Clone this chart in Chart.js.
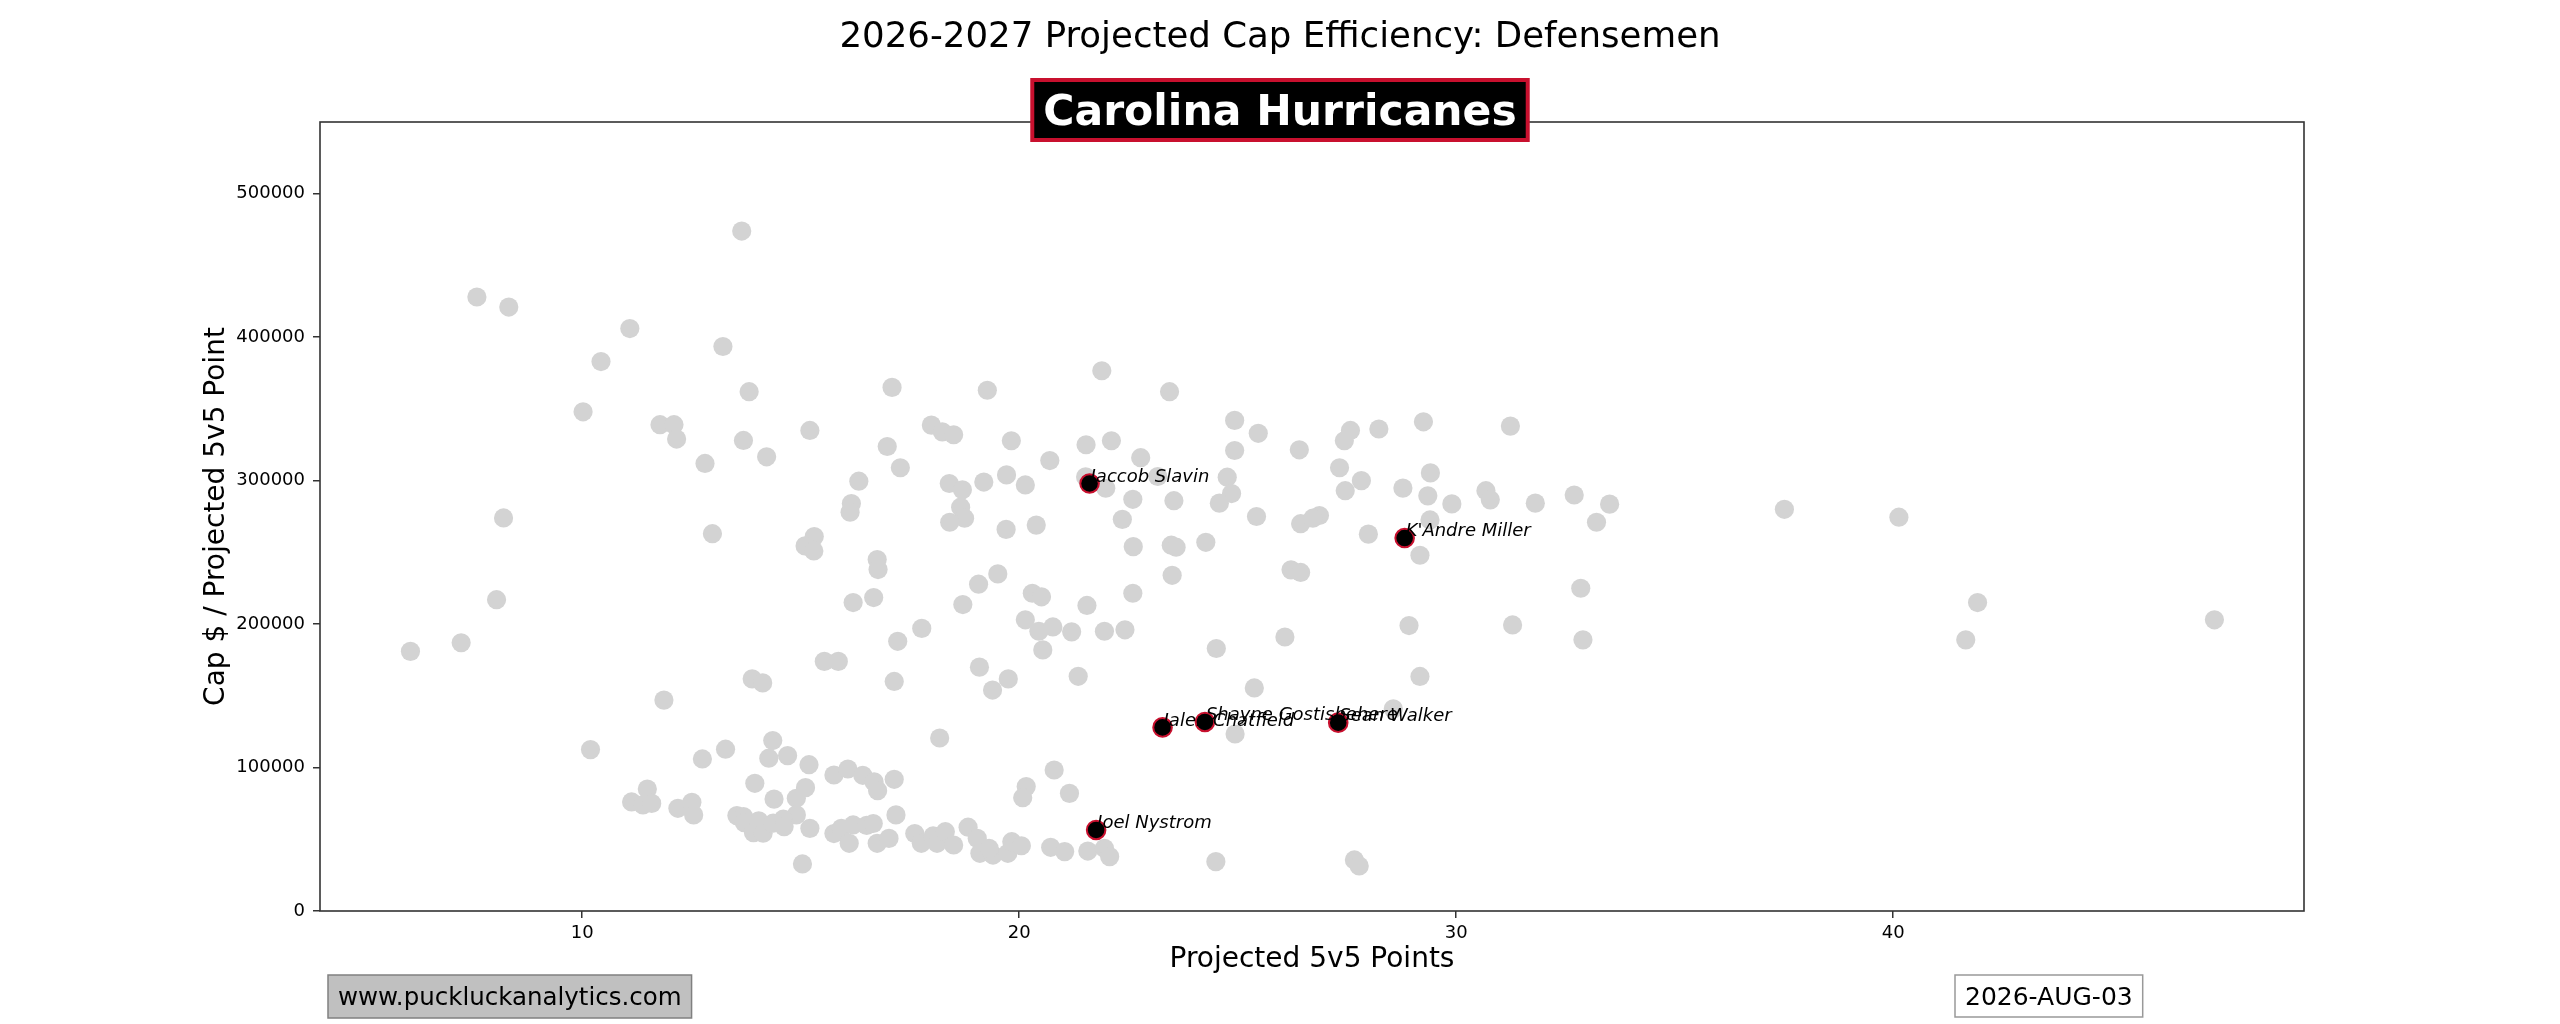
<!DOCTYPE html>
<html>
<head>
<meta charset="utf-8">
<title>2026-2027 Projected Cap Efficiency: Defensemen</title>
<script src="https://cdn.jsdelivr.net/npm/chart.js@4.4.1/dist/chart.umd.min.js"></script>
<style>
  html, body { margin: 0; padding: 0; background: #fff; }
  #wrap { position: relative; width: 2560px; height: 1024px; }
</style>
</head>
<body>
<div id="wrap"><canvas id="chart"></canvas></div>
<script>
// --- DATA ---
// every defenseman in the league (grey dots)
const leaguePoints = [
  6.07, 7.23, 7.59, 8.32, 8.04, 8.20, 10.02, 10.43, 10.19, 11.09,
  11.78, 12.10, 12.16, 12.81, 12.98, 11.87, 11.49, 11.13, 11.39, 11.59,
  12.19, 12.51, 12.55, 12.75, 13.28, 13.22, 13.65, 13.82, 13.69, 17.09,
  19.27, 21.89, 14.22, 15.21, 17.99, 18.24, 18.50, 16.98, 17.28, 19.82,
  20.70, 21.53, 22.11, 22.78, 16.33, 16.16, 16.13, 15.31, 15.10, 15.30,
  18.40, 18.70, 19.19, 19.71, 20.14, 18.66, 18.75, 18.41, 19.70, 20.39,
  21.52, 21.98, 22.60, 22.36, 22.61, 16.75, 16.77, 16.20, 16.67, 19.51,
  19.07, 18.71, 20.30, 20.51, 21.55, 22.60, 20.14, 20.45, 20.77, 21.20,
  21.95, 22.42, 20.54, 17.77, 17.22, 15.54, 15.86, 19.09, 13.89, 14.13,
  17.14, 19.39, 19.75, 21.35, 18.18, 14.36, 14.27, 14.70, 15.19, 13.95,
  14.39, 14.90, 15.11, 14.90, 15.76, 16.08, 16.42, 16.68, 16.76, 17.14,
  17.18, 20.80, 20.16, 20.08, 21.15, 13.54, 13.69, 13.71, 13.92, 14.04,
  14.14, 14.37, 14.60, 14.62, 15.04, 15.21, 15.76, 15.93, 16.20, 16.11,
  16.51, 16.66, 16.75, 17.02, 17.61, 17.76, 18.03, 18.12, 18.31, 18.50,
  18.83, 19.04, 19.10, 19.40, 19.31, 19.74, 19.83, 20.05, 20.72, 21.04,
  21.57, 21.95, 22.07, 23.44, 24.93, 25.47, 24.93, 26.41, 27.58, 27.44,
  28.23, 29.25, 31.24, 27.33, 27.83, 27.46, 28.78, 29.41, 29.35, 29.90,
  30.68, 30.78, 31.81, 32.70, 23.17, 24.76, 24.86, 24.58, 23.54, 25.43,
  26.44, 26.87, 26.72, 23.48, 23.59, 24.27, 27.99, 29.40, 29.17, 23.50,
  26.22, 26.44, 24.51, 26.08, 28.92, 31.29, 32.85, 32.90, 29.17, 25.38,
  28.56, 24.94, 24.50, 27.67, 27.78, 33.51, 33.21, 37.51, 40.13, 41.66,
  41.93, 47.35
];
const leagueCap = [
  181000, 187000, 428000, 421000, 217000, 274000, 348000, 383000, 112500, 406000,
  339000, 339000, 329000, 312000, 263000, 147000, 85000, 76000, 74000, 75000,
  71600, 75800, 67000, 106000, 112800, 393500, 474000, 362000, 328000, 365000,
  363000, 376600, 316600, 335000, 338700, 334000, 332000, 323800, 309000, 327800,
  314000, 325000, 327800, 316000, 299600, 284000, 278000, 261000, 254500, 251000,
  298000, 293600, 299000, 304000, 297000, 281500, 273800, 271000, 266000, 269000,
  302600, 294700, 287000, 273000, 254000, 245000, 238000, 215000, 218500, 235000,
  227800, 213600, 221500, 219000, 213000, 221500, 203000, 195000, 198000, 194600,
  195000, 196000, 182000, 197000, 188000, 174000, 174000, 170000, 161800, 159000,
  160000, 154000, 161800, 163600, 120600, 118800, 106500, 108300, 102000, 89000,
  78000, 78600, 86000, 67000, 94800, 99000, 94600, 90000, 83900, 91800,
  67000, 98300, 86700, 79000, 82000, 66500, 65800, 61600, 54600, 62800,
  54200, 61200, 64000, 58800, 32800, 57600, 54000, 57600, 60000, 47200,
  59700, 61000, 47200, 50600, 54000, 47200, 52300, 47200, 55300, 46000,
  58400, 50600, 40200, 39000, 43700, 40200, 48300, 45500, 44400, 41400,
  41800, 43700, 37900, 362000, 342000, 333000, 321000, 321500, 335000, 327800,
  336000, 341000, 338000, 309000, 300000, 293000, 294800, 305400, 289400, 283800,
  293000, 286600, 284300, 290000, 302900, 302400, 291000, 284300, 286000, 275000,
  270000, 275700, 273800, 255000, 253600, 257000, 262700, 272600, 248000, 234000,
  237800, 236000, 183000, 191000, 199000, 199400, 225000, 189000, 163500, 155500,
  140900, 123400, 34400, 35600, 31400, 283600, 271000, 280000, 274500, 189000,
  215000, 203000
];

// Carolina Hurricanes defensemen (black dots with names)
const teamPlayers = ['Jaccob Slavin', "K'Andre Miller", 'Jalen Chatfield', 'Shayne Gostisbehere', 'Sean Walker', 'Joel Nystrom'];
const teamPoints = [21.61, 28.82, 23.28, 24.25, 27.30, 21.76];
const teamCap = [298000, 260000, 128000, 131800, 131300, 56500];

const xTicks = [10, 20, 30, 40];
const yTicks = [0, 100000, 200000, 300000, 400000, 500000];

const chartTitle = '2026-2027 Projected Cap Efficiency: Defensemen';
const teamName = 'Carolina Hurricanes';
const siteName = 'www.puckluckanalytics.com';
const runDate = '2026-AUG-03';

const FONT = '"DejaVu Sans", "Liberation Sans", sans-serif';
const TEAM_RED = '#c8102e';

// --- PLUGIN: frame, names, titles and footers ---
const decorations = {
    id: 'decorations',
    afterDatasetsDraw(chart) {
        const { ctx, chartArea: a, scales: { x, y } } = chart;
        ctx.save();
        ctx.strokeStyle = '#333';
        ctx.lineWidth = 1.6;
        ctx.strokeRect(a.left, a.top, a.right - a.left, a.bottom - a.top);

        ctx.font = 'italic 18px ' + FONT;
        ctx.fillStyle = '#000';
        ctx.textAlign = 'left';
        ctx.textBaseline = 'middle';
        teamPlayers.forEach((name, i) => {
            const px = x.getPixelForValue(teamPoints[i]);
            const py = y.getPixelForValue(teamCap[i]);
            ctx.fillText(name, px + 1, py - 6.5);
        });
        ctx.restore();
    },
    afterDraw(chart) {
        const { ctx, width } = chart;
        const cx = width / 2;
        ctx.save();

        // main title
        ctx.font = '35.6px ' + FONT;
        ctx.fillStyle = '#000';
        ctx.textAlign = 'center';
        ctx.textBaseline = 'alphabetic';
        ctx.fillText(chartTitle, cx, 47);

        // team name box
        ctx.font = 'bold 42.5px ' + FONT;
        const tw = ctx.measureText(teamName).width;
        const bw = tw + 22;
        ctx.fillStyle = '#000';
        ctx.fillRect(cx - bw / 2, 80, bw, 60);
        ctx.strokeStyle = TEAM_RED;
        ctx.lineWidth = 4;
        ctx.strokeRect(cx - bw / 2, 80, bw, 60);
        ctx.fillStyle = '#fff';
        ctx.fillText(teamName, cx, 125);

        // footers
        ctx.font = '24.5px ' + FONT;
        ctx.textAlign = 'left';
        const sw = ctx.measureText(siteName).width;
        ctx.fillStyle = '#c0c0c0';
        ctx.fillRect(328, 975, sw + 20, 43);
        ctx.strokeStyle = '#808080';
        ctx.lineWidth = 1.5;
        ctx.strokeRect(328, 975, sw + 20, 43);
        ctx.fillStyle = '#000';
        ctx.fillText(siteName, 338, 1005);

        ctx.font = '25px ' + FONT;
        const dw = ctx.measureText(runDate).width;
        ctx.fillStyle = '#fff';
        ctx.fillRect(1955, 975, dw + 20, 42);
        ctx.strokeStyle = '#999';
        ctx.strokeRect(1955, 975, dw + 20, 42);
        ctx.fillStyle = '#000';
        ctx.fillText(runDate, 1965, 1005);

        ctx.restore();
    }
};

const tickFont = { family: FONT, size: 18 };
const titleFont = { family: FONT, size: 28 };

new Chart(document.getElementById('chart'), {
    type: 'scatter',
    data: {
        datasets: [
            {
                label: teamName,
                data: teamPoints.map((v, i) => ({ x: v, y: teamCap[i] })),
                backgroundColor: '#000',
                borderColor: TEAM_RED,
                borderWidth: 2,
                pointRadius: 9.3,
                order: 0
            },
            {
                label: 'League',
                data: leaguePoints.map((v, i) => ({ x: v, y: leagueCap[i] })),
                backgroundColor: '#d3d3d3',
                borderWidth: 0,
                pointRadius: 9.6,
                order: 1
            }
        ]
    },
    options: {
        responsive: true,
        maintainAspectRatio: false,
        animation: false,
        events: [],
        layout: { padding: { left: 190, right: 256, top: 122, bottom: 0 } },
        plugins: {
            legend: { display: false },
            tooltip: { enabled: false }
        },
        scales: {
            x: {
                type: 'linear',
                min: 4.0,
                max: 49.4,
                afterFit: scale => { scale.height = 113; },
                afterBuildTicks: scale => { scale.ticks = xTicks.map(v => ({ value: v })); },
                ticks: { font: tickFont, color: '#000', padding: 5, maxRotation: 0, callback: v => String(v) },
                grid: { drawOnChartArea: false, drawTicks: true, tickLength: 7, color: '#333', lineWidth: 1.5 },
                border: { display: false },
                title: { display: true, text: 'Projected 5v5 Points', font: titleFont, color: '#000', padding: { top: 0, bottom: 47 } }
            },
            y: {
                type: 'linear',
                min: 0,
                max: 550000,
                afterFit: scale => { scale.width = 130; },
                afterBuildTicks: scale => { scale.ticks = yTicks.map(v => ({ value: v })); },
                ticks: { font: tickFont, color: '#000', padding: 8, callback: v => String(v) },
                grid: { drawOnChartArea: false, drawTicks: true, tickLength: 7, color: '#333', lineWidth: 1.5 },
                border: { display: false },
                title: { display: true, text: 'Cap $ / Projected 5v5 Point', font: titleFont, color: '#000', padding: { top: 10, bottom: 0 } }
            }
        }
    },
    plugins: [decorations]
});
</script>
</body>
</html>
